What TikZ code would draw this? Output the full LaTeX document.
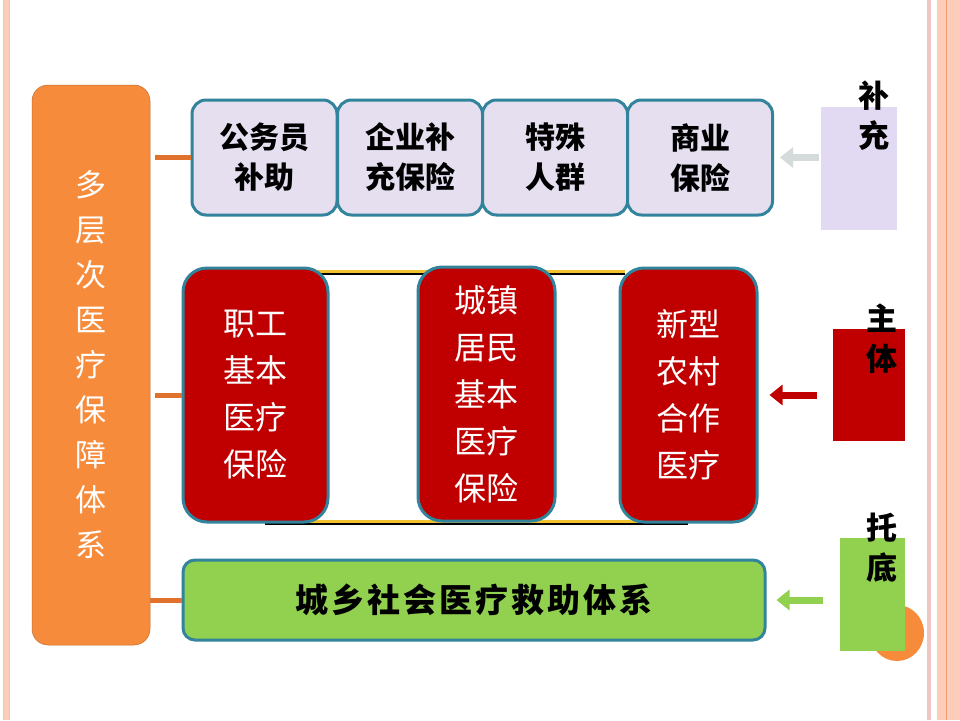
\documentclass[tikz,border=0pt]{standalone}
\usepackage{fontspec}
\setmainfont{Noto Sans CJK SC}
\usetikzlibrary{arrows.meta}
\definecolor{borange}{HTML}{F68B3B}
\definecolor{lav}{HTML}{E5DFF0}
\definecolor{tealb}{HTML}{31849B}
\definecolor{bred}{HTML}{C00000}
\definecolor{bgreen}{HTML}{92D050}
\definecolor{labl}{HTML}{E2DAF2}
\definecolor{garrow}{HTML}{D5DADB}
\definecolor{conn}{HTML}{E0722E}
\definecolor{salm}{HTML}{FCCDB8}
\definecolor{salmd}{HTML}{F29A70}
\definecolor{pinkl}{HTML}{EBB8B4}
\definecolor{yel}{HTML}{F2C12E}
\tikzset{
  topbox/.style={draw=tealb, line width=3pt, fill=lav, rounded corners=14pt,
     minimum width=145pt, minimum height=115pt, align=center,
     font=\fontsize{30}{40}\selectfont\bfseries, inner sep=0pt},
  redbox/.style={draw=tealb, line width=3pt, fill=bred, rounded corners=24pt,
     minimum height=254pt, align=center, text=white,
     font=\fontsize{32}{47}\selectfont, inner sep=0pt},
  lbl/.style={font=\fontsize{31}{40}\selectfont\bfseries, align=center, inner sep=0pt},
  conline/.style={draw=conn, line width=5pt},
  blockarrow/.style={line width=7pt, -{Triangle[width=20pt,length=13pt]}},
}
\begin{document}
\begin{tikzpicture}[x=1pt,y=-1pt]
\useasboundingbox (0,0) rectangle (960,720);
\fill[white] (0,0) rectangle (960,720);
% borders
\fill[salm] (3,0) rectangle (9,720);
\draw[salmd!60, line width=0.6pt] (3,0) -- (3,720) (9,0) -- (9,720);
\fill[pinkl!80] (927,0) rectangle (931,720);
\fill[salm] (937,0) rectangle (960,720);
\draw[salmd, line width=1pt] (946,0) -- (946,720);
% yellow lines
\draw[black, line width=2pt] (318,273.5) -- (625,273.5);
\draw[yel, line width=3pt] (318,271) -- (625,271);
\draw[black, line width=2pt] (265,523.5) -- (688,523.5);
\draw[yel, line width=3pt] (265,521) -- (688,521);
% main box
\node[draw=borange!80!black, line width=0.5pt, fill=borange, rounded corners=16pt,
  minimum width=118pt, minimum height=560pt, inner sep=0pt, align=center, text=white,
  font=\fontsize{31}{45}\selectfont] (main) at (91,365)
  {多\\层\\次\\医\\疗\\保\\障\\体\\系};
% top boxes
\node[topbox] (b1) at (264.5,157.5) {公务员\\补助};
\node[topbox] (b2) at (410,157.5) {企业补\\充保险};
\node[topbox] (b3) at (555,157.5) {特殊\\人群};
\node[topbox] (b4) at (700,157.5) {商业\\保险};
% red boxes
\node[redbox, minimum width=145pt] (r1) at (255.5,395) {职工\\基本\\医疗\\保险};
\node[redbox, minimum width=137pt] (r2) at (486.5,394) {城镇\\居民\\基本\\医疗\\保险};
\node[redbox, minimum width=137pt] (r3) at (688.5,395) {新型\\农村\\合作\\医疗};
% green box
\node[draw=tealb, line width=3pt, fill=bgreen, rounded corners=12pt,
  minimum width=582pt, minimum height=80pt, inner sep=0pt,
  font=\fontsize{33}{40}\selectfont\bfseries\addfontfeatures{LetterSpace=9}] (g) at (474,600) {城乡社会医疗救助体系};
% connectors from main box
\draw[conline] ([xshift=5pt]main.east |- b1.west) -- (b1.west);
\draw[conline] ([xshift=5pt]main.east |- r1.west) -- (r1.west);
\draw[conline] (main.east |- g.west) -- (g.west);
% right labels
\node[fill=labl, minimum width=76pt, minimum height=123pt, inner sep=0pt] (sup) at (859,168.5) {};
\node[fill=bred, minimum width=72pt, minimum height=112pt, inner sep=0pt] (mainr) at (869,385) {};
\fill[borange] (897,633) ellipse (27pt and 28pt);
\node[fill=bgreen, minimum width=65pt, minimum height=113pt, inner sep=0pt] (base) at (872.5,594.5) {};
\node[lbl] (supt) at (874,116) {补\\充};
\node[lbl] (maint) at (882,339) {主\\体};
\node[lbl] (baset) at (882,548) {托\\底};
% arrows
\draw[blockarrow, draw=garrow, shorten <=2pt, shorten >=6pt] (sup.west |- b4.east) -- (b4.east);
\draw[blockarrow, draw=bred, shorten <=16pt, shorten >=11pt] (mainr.west |- r3.east) -- (r3.east);
\draw[blockarrow, draw=bgreen, shorten <=17pt, shorten >=10pt] (base.west |- g.east) -- (g.east);
\end{tikzpicture}
\end{document}
